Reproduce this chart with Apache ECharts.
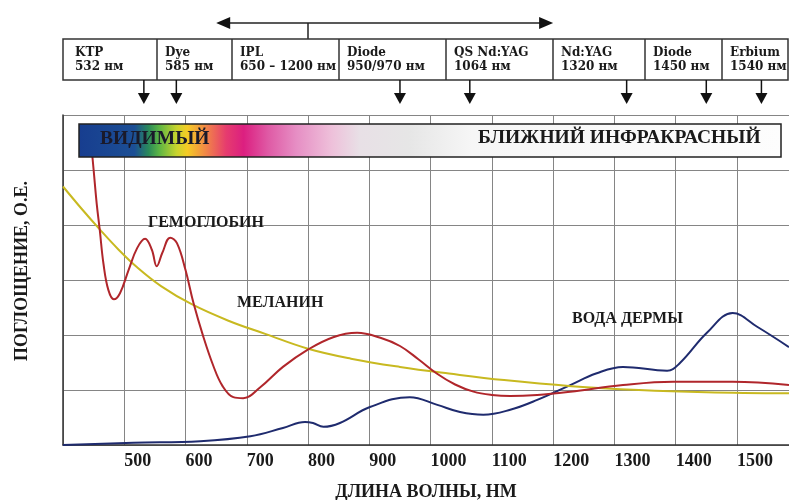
<!DOCTYPE html>
<html><head><meta charset="utf-8">
<script src="https://cdn.jsdelivr.net/npm/echarts@6/dist/echarts.min.js"></script>
<style>html,body{margin:0;padding:0;background:#fff}#c{width:789px;height:500px}</style>
</head><body><div id="c"></div>
<script>
// Wavelength (nm) vs absorption (arb. units)
const hemoglobin = [[445,5.6],[450,5.0],[455,4.39],[460,3.91],[466,3.3],[474,2.82],[483,2.65],[493,2.76],[507,3.18],[521,3.58],[534,3.75],[545,3.55],[553,3.25],[562,3.49],[575,3.77],[586,3.67],[600,3.18],[613,2.58],[629,1.97],[645,1.45],[660,1.08],[678,0.87],[694,0.85],[722,1.05],[759,1.42],[799,1.73],[841,1.96],[880,2.04],[918,1.95],[950,1.8],[980,1.56],[1010,1.3],[1040,1.1],[1070,0.97],[1100,0.91],[1130,0.89],[1174,0.91],[1228,0.97],[1314,1.09],[1396,1.15],[1493,1.15],[1585,1.09]];
const melanin = [[400,4.7],[430,4.3],[460,3.92],[490,3.56],[520,3.24],[560,2.89],[610,2.56],[670,2.26],[730,2.02],[800,1.75],[870,1.57],[950,1.42],[1030,1.3],[1120,1.18],[1230,1.07],[1340,1.0],[1450,0.96],[1585,0.94]];
const dermalWater = [[400,0],[515,0.04],[624,0.07],[706,0.16],[759,0.31],[795,0.42],[808,0.4],[825,0.33],[852,0.4],[901,0.69],[966,0.87],[1011,0.73],[1048,0.6],[1086,0.55],[1130,0.64],[1174,0.82],[1228,1.09],[1270,1.3],[1314,1.42],[1386,1.35],[1407,1.49],[1451,2.04],[1493,2.4],[1533,2.15],[1585,1.78]];

const laserBoxes = ['KTP\n532 нм','Dye\n585 нм','IPL\n650 – 1200 нм','Diode\n950/970 нм','QS Nd:YAG\n1064 нм','Nd:YAG\n1320 нм','Diode\n1450 нм','Erbium\n1540 нм'];
const laserArrows = [532, 585, 950, 1064, 1320, 1450, 1540];
const iplRange = [650, 1200];
const xTicks = [500,600,700,800,900,1000,1100,1200,1300,1400,1500];
const seriesNames = ['ГЕМОГЛОБИН','МЕЛАНИН','ВОДА ДЕРМЫ'];
const bandNames = ['ВИДИМЫЙ','БЛИЖНИЙ ИНФРАКРАСНЫЙ'];

const serif = '"Liberation Serif","DejaVu Serif",serif';
const wide = '"DejaVu Serif","Liberation Serif",serif';
const chart = echarts.init(document.getElementById('c'));
chart.setOption({
  animation:false,
  backgroundColor:'#fff',
  grid:{left:63,right:0,top:115,bottom:55,containLabel:false,outerBoundsMode:'none'},
  xAxis:{type:'value',min:400,max:1585,interval:100,
    name:'ДЛИНА ВОЛНЫ, НМ',nameLocation:'middle',nameGap:38,
    nameTextStyle:{fontFamily:serif,fontSize:18,fontWeight:'bold',color:'#1a1a1a'},
    axisLine:{lineStyle:{color:'#333',width:1.5}},axisTick:{show:false},
    axisLabel:{fontFamily:serif,fontSize:18,fontWeight:'bold',color:'#1a1a1a',margin:7,align:'left',showMaxLabel:false,
      formatter:v=>xTicks.indexOf(v)>=0?String(v):''},
    splitLine:{show:true,lineStyle:{color:'#858585',width:1}}},
  yAxis:{type:'value',min:0,max:6,interval:1,
    name:'ПОГЛОЩЕНИЕ, О.Е.',nameLocation:'middle',nameRotate:90,nameGap:32,
    nameTextStyle:{fontFamily:serif,fontSize:18,fontWeight:'bold',color:'#1a1a1a',padding:[0,0,0,18]},
    axisLine:{show:true,lineStyle:{color:'#333',width:1.5}},axisTick:{show:false},axisLabel:{show:false},
    splitLine:{show:true,lineStyle:{color:'#858585',width:1}}},
  series:[
    {name:seriesNames[2],type:'line',data:dermalWater,smooth:0.4,showSymbol:false,lineStyle:{color:'#1f2b6e',width:2},z:2},
    {name:seriesNames[1],type:'line',data:melanin,smooth:0.4,showSymbol:false,lineStyle:{color:'#c8b920',width:2},z:3},
    {name:seriesNames[0],type:'line',data:hemoglobin,smooth:0.4,showSymbol:false,lineStyle:{color:'#b0262b',width:2},z:4}
  ]
});

const px = v => chart.convertToPixel({xAxisIndex:0}, v);
const g = [];
const Z = 100;
// IPL range double arrow
const a1 = px(iplRange[0]), a2 = px(iplRange[1]);
g.push({type:'line',z:Z,shape:{x1:a1+8,y1:23,x2:a2-8,y2:23},style:{stroke:'#222',lineWidth:1.5}});
g.push({type:'polygon',z:Z,shape:{points:[[a1,23],[a1+14,17],[a1+14,29]]},style:{fill:'#111'}});
g.push({type:'polygon',z:Z,shape:{points:[[a2,23],[a2-14,17],[a2-14,29]]},style:{fill:'#111'}});
g.push({type:'line',z:Z,shape:{x1:308,y1:23,x2:308,y2:39},style:{stroke:'#222',lineWidth:1.5}});
// laser boxes
const dividers = [63,157,232,339,446,553,645,722,788];
g.push({type:'rect',z:Z,shape:{x:63,y:39,width:725,height:41},style:{fill:'#fff',stroke:'#333',lineWidth:1.5}});
for (let i=1;i<dividers.length-1;i++) g.push({type:'line',z:Z,shape:{x1:dividers[i],y1:39,x2:dividers[i],y2:80},style:{stroke:'#333',lineWidth:1.5}});
laserBoxes.forEach((t,i)=>{
  g.push({type:'text',z:Z,x:dividers[i]+(i===0?12:8),y:46,style:{text:t,fontFamily:wide,fontSize:12,fontWeight:'bold',lineHeight:14,fill:'#1a1a1a',align:'left',verticalAlign:'top'}});
});
// arrows down
laserArrows.forEach(w=>{
  const x = px(w);
  g.push({type:'line',z:Z,shape:{x1:x,y1:80,x2:x,y2:95},style:{stroke:'#111',lineWidth:1.5}});
  g.push({type:'polygon',z:Z,shape:{points:[[x-6,93],[x+6,93],[x,104]]},style:{fill:'#111'}});
});
// spectrum band
g.push({type:'rect',z:Z,shape:{x:79,y:124,width:702,height:33},style:{
  fill:new echarts.graphic.LinearGradient(0,0,1,0,[
    {offset:0,color:'#173d8f'},{offset:0.08,color:'#1c4f95'},{offset:0.10,color:'#2a8a5a'},
    {offset:0.115,color:'#5cb544'},{offset:0.14,color:'#c8d42e'},{offset:0.155,color:'#f5cc25'},
    {offset:0.18,color:'#f28a45'},{offset:0.21,color:'#e63c6e'},{offset:0.235,color:'#dc1f80'},
    {offset:0.27,color:'#df5aa5'},{offset:0.31,color:'#e68ec4'},{offset:0.36,color:'#eec0da'},
    {offset:0.40,color:'#e8e0e6'},{offset:0.47,color:'#e6e6e6'},{offset:0.56,color:'#f6f6f6'},{offset:1,color:'#fdfdfd'}]),
  stroke:'#222',lineWidth:1.5}});
g.push({type:'text',z:Z,x:100,y:139,style:{text:bandNames[0],fontFamily:serif,fontSize:19.5,fontWeight:'bold',fill:'#1a1a2a',align:'left',verticalAlign:'middle'}});
g.push({type:'text',z:Z,x:478,y:138,style:{text:bandNames[1],fontFamily:serif,fontSize:19.5,fontWeight:'bold',fill:'#1a1a1a',align:'left',verticalAlign:'middle'}});
// curve labels
g.push({type:'text',z:Z,x:148,y:223,style:{text:seriesNames[0],fontFamily:serif,fontSize:16,fontWeight:'bold',fill:'#1a1a1a',align:'left',verticalAlign:'middle'}});
g.push({type:'text',z:Z,x:237,y:303,style:{text:seriesNames[1],fontFamily:serif,fontSize:16,fontWeight:'bold',fill:'#1a1a1a',align:'left',verticalAlign:'middle'}});
g.push({type:'text',z:Z,x:572,y:319,style:{text:seriesNames[2],fontFamily:serif,fontSize:16,fontWeight:'bold',fill:'#1a1a1a',align:'left',verticalAlign:'middle'}});
chart.setOption({graphic:{elements:g}});
</script></body></html>
